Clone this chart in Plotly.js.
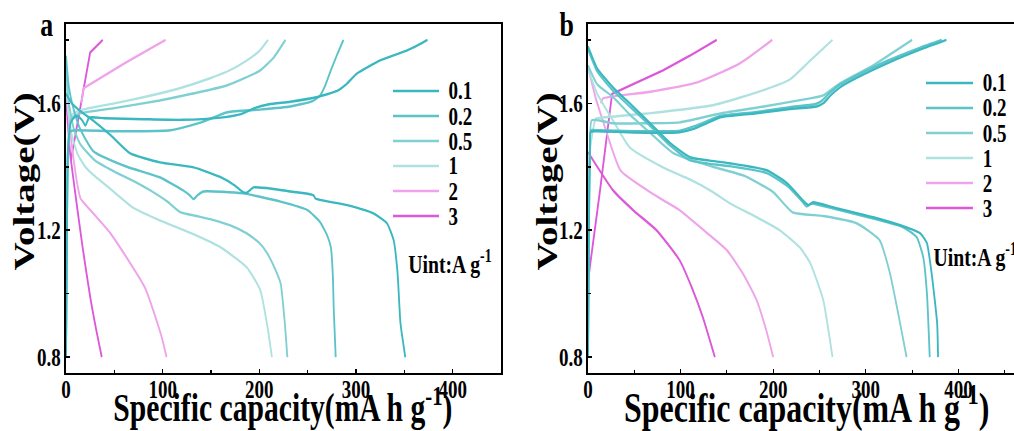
<!DOCTYPE html>
<html>
<head>
<meta charset="utf-8">
<script src="https://cdn.plot.ly/plotly-3.0.1.min.js"></script>
<style>
  html, body { margin: 0; padding: 0; overflow: hidden; background: #fff; }
  #wrap { width: 1014px; height: 431px; overflow: hidden; }
  /* the figure is laid out wide and narrowed horizontally to get its tall, condensed lettering */
  #chart { width: 1334px; height: 431px; transform: scaleX(0.76012); transform-origin: 0 0; }
</style>
</head>
<body>
<div id="wrap"><div id="chart"></div></div>
<script>
// Current densities (A g-1) and their colours
const rates = ['0.1', '0.2', '0.5', '1', '2', '3'];
const rateColors = ['#3bb7bf', '#5cc3c8', '#80d0d3', '#aee2e0', '#efa3ea', '#dc58d8'];

// ---------- Panel a : discharge ----------
const aDis01Cap = [0, 6, 15, 28, 46, 66, 97, 132, 160, 175, 183, 187, 194, 215, 232, 250, 256, 258, 291, 318, 332, 339, 343, 346, 351];
const aDis01V   = [1.63, 1.60, 1.575, 1.546, 1.50, 1.443, 1.414, 1.398, 1.367, 1.34, 1.32, 1.318, 1.335, 1.33, 1.322, 1.315, 1.31, 1.30, 1.279, 1.253, 1.222, 1.168, 1.065, 0.907, 0.80];
const aDis02Cap = [0, 3, 8, 14.5, 28, 63, 97, 121, 128, 132, 136, 142, 183, 222, 250, 263, 270, 274, 276, 277, 279];
const aDis02V   = [1.75, 1.65, 1.58, 1.52, 1.45, 1.40, 1.367, 1.326, 1.31, 1.298, 1.31, 1.322, 1.316, 1.29, 1.263, 1.225, 1.185, 1.146, 1.06, 0.95, 0.80];
const aDis05Cap = [0, 3, 8, 15, 30, 50, 70, 87, 105, 118, 135, 149, 170, 187, 200, 208, 216, 222, 226, 229];
const aDis05V   = [1.72, 1.60, 1.52, 1.47, 1.42, 1.385, 1.355, 1.326, 1.29, 1.257, 1.245, 1.235, 1.215, 1.19, 1.16, 1.128, 1.08, 1.033, 0.92, 0.80];
const aDis1Cap  = [0, 2, 6, 12, 20, 30, 46, 70, 97, 130, 160, 187, 201, 209, 213];
const aDis1V    = [1.70, 1.58, 1.50, 1.44, 1.40, 1.37, 1.33, 1.27, 1.231, 1.19, 1.146, 1.083, 1.011, 0.885, 0.80];
const aDis2Cap  = [0, 4, 8, 12, 15, 18, 46, 82, 99, 104];
const aDis2V    = [1.66, 1.52, 1.42, 1.34, 1.30, 1.288, 1.19, 1.017, 0.863, 0.80];
const aDis3Cap  = [0, 4, 9, 17, 25, 31, 37];
const aDis3V    = [1.62, 1.45, 1.33, 1.15, 0.99, 0.89, 0.80];

// ---------- Panel a : charge ----------
const aChg01Cap = [0, 1, 2, 5, 10, 14, 17, 20, 24, 40, 80, 120, 160, 180, 195, 210, 232, 260, 281, 290, 301, 325, 353, 365, 374];
const aChg01V   = [0.80, 1.2, 1.45, 1.54, 1.56, 1.555, 1.545, 1.53, 1.555, 1.553, 1.550, 1.548, 1.555, 1.565, 1.585, 1.597, 1.605, 1.62, 1.64, 1.66, 1.694, 1.735, 1.767, 1.785, 1.80];
const aChg02Cap = [0, 1, 2, 4, 10, 50, 108, 140, 167, 200, 232, 255, 263, 268, 274, 280, 287];
const aChg02V   = [0.80, 1.2, 1.45, 1.51, 1.515, 1.512, 1.515, 1.54, 1.572, 1.58, 1.59, 1.607, 1.625, 1.655, 1.704, 1.75, 1.80];
const aChg05Cap = [0, 1, 2, 5, 14.5, 50, 97, 130, 167, 201, 215, 227];
const aChg05V   = [0.80, 1.2, 1.45, 1.55, 1.568, 1.585, 1.609, 1.63, 1.657, 1.704, 1.745, 1.80];
const aChg1Cap  = [0, 1, 2, 5, 14.5, 50, 80, 115, 149, 170, 187, 200, 209];
const aChg1V    = [0.80, 1.2, 1.45, 1.56, 1.578, 1.60, 1.619, 1.645, 1.679, 1.705, 1.735, 1.765, 1.80];
const aChg2Cap  = [16, 18, 60, 103];
const aChg2V    = [1.60, 1.647, 1.725, 1.80];
const aChg3Cap  = [5, 25, 38];
const aChg3V    = [1.42, 1.76, 1.80];

// ---------- Panel b : discharge ----------
const bDis01Cap = [0, 10, 27, 45, 64, 89, 110, 130, 153, 193, 215, 229, 232, 238, 243, 265, 308, 344, 359, 366, 371, 377, 378];
const bDis01V   = [1.78, 1.71, 1.65, 1.60, 1.546, 1.474, 1.43, 1.42, 1.411, 1.389, 1.348, 1.304, 1.294, 1.279, 1.288, 1.272, 1.241, 1.209, 1.19, 1.159, 1.065, 0.907, 0.80];
const bDis02Cap = [0, 10, 27, 45, 64, 89, 110, 130, 153, 193, 215, 229, 232, 236, 241, 265, 308, 340, 355, 362, 366, 369];
const bDis02V   = [1.77, 1.70, 1.64, 1.59, 1.538, 1.466, 1.42, 1.41, 1.402, 1.38, 1.34, 1.298, 1.288, 1.275, 1.284, 1.268, 1.237, 1.21, 1.178, 1.115, 1.0, 0.80];
const bDis05Cap = [0, 10, 27, 45, 64, 92, 135, 170, 200, 221, 254, 290, 315, 326, 337, 344];
const bDis05V   = [1.72, 1.66, 1.62, 1.565, 1.515, 1.443, 1.40, 1.37, 1.32, 1.256, 1.245, 1.222, 1.168, 1.065, 0.907, 0.80];
const bDis1Cap  = [0, 10, 27, 45, 81, 110, 135, 153, 182, 207, 229, 240, 254, 264];
const bDis1V    = [1.71, 1.63, 1.546, 1.461, 1.398, 1.36, 1.32, 1.285, 1.241, 1.20, 1.145, 1.096, 0.98, 0.80];
const bDis2Cap  = [0, 8, 16, 35, 64, 81, 99, 125, 150, 168, 182, 192, 200];
const bDis2V    = [1.713, 1.62, 1.546, 1.389, 1.326, 1.295, 1.263, 1.20, 1.137, 1.06, 0.98, 0.89, 0.80];
const bDis3Cap  = [0, 27, 50, 74, 99, 112, 124, 137];
const bDis3V    = [1.446, 1.326, 1.26, 1.20, 1.105, 1.02, 0.926, 0.80];

// ---------- Panel b : charge ----------
const bChg01Cap = [0, 1, 2, 3, 10, 50, 99, 115, 128, 143, 180, 218, 247, 254, 262, 272, 290, 326, 362, 387];
const bChg01V   = [0.80, 1.2, 1.45, 1.51, 1.512, 1.508, 1.509, 1.52, 1.537, 1.556, 1.568, 1.582, 1.59, 1.60, 1.625, 1.65, 1.68, 1.73, 1.773, 1.80];
const bChg02Cap = [0, 1, 2, 3, 10, 50, 99, 115, 128, 143, 180, 218, 245, 252, 260, 270, 288, 324, 358, 382];
const bChg02V   = [0.80, 1.2, 1.45, 1.515, 1.515, 1.512, 1.514, 1.528, 1.543, 1.56, 1.572, 1.588, 1.597, 1.607, 1.63, 1.655, 1.685, 1.735, 1.775, 1.80];
const bChg05Cap = [0, 1, 2, 4, 27, 60, 99, 143, 190, 229, 254, 272, 308, 350];
const bChg05V   = [0.80, 1.2, 1.45, 1.546, 1.537, 1.537, 1.54, 1.568, 1.59, 1.61, 1.625, 1.663, 1.72, 1.80];
const bChg1Cap  = [0, 1, 2, 8, 10, 64, 135, 189, 218, 240, 264];
const bChg1V    = [0.80, 1.2, 1.45, 1.55, 1.553, 1.568, 1.594, 1.641, 1.675, 1.735, 1.80];
const bChg2Cap  = [14, 16, 64, 118, 164, 199];
const bChg2V    = [1.60, 1.615, 1.635, 1.666, 1.726, 1.80];
const bChg3Cap  = [0, 13, 26, 81, 110, 139];
const bChg3V    = [1.04, 1.326, 1.63, 1.704, 1.75, 1.80];

// curves per panel: [capacity, voltage, rate index, drawn straight?]
// listed from the highest current to the lowest so 0.1 ends up on top
const panelA = [
  [aDis3Cap, aDis3V, 5, false], [aChg3Cap, aChg3V, 5, true],
  [aDis2Cap, aDis2V, 4, false], [aChg2Cap, aChg2V, 4, true],
  [aDis1Cap, aDis1V, 3, false], [aChg1Cap, aChg1V, 3, false],
  [aDis05Cap, aDis05V, 2, false], [aChg05Cap, aChg05V, 2, false],
  [aDis02Cap, aDis02V, 1, false], [aChg02Cap, aChg02V, 1, false],
  [aDis01Cap, aDis01V, 0, false], [aChg01Cap, aChg01V, 0, false]
];
const panelB = [
  [bDis3Cap, bDis3V, 5, false], [bChg3Cap, bChg3V, 5, true],
  [bDis2Cap, bDis2V, 4, false], [bChg2Cap, bChg2V, 4, false],
  [bDis1Cap, bDis1V, 3, false], [bChg1Cap, bChg1V, 3, false],
  [bDis05Cap, bDis05V, 2, false], [bChg05Cap, bChg05V, 2, false],
  [bDis02Cap, bDis02V, 1, false], [bChg02Cap, bChg02V, 1, false],
  [bDis01Cap, bDis01V, 0, false], [bChg01Cap, bChg01V, 0, false]
];

const traces = [];
function addPanel(curves, xa, ya) {
  curves.forEach(([cap, v, k, straight]) => {
    traces.push({
      x: cap, y: v, xaxis: xa, yaxis: ya,
      type: 'scatter', mode: 'lines', name: rates[k],
      line: straight
        ? { color: rateColors[k], width: 2.4 }
        : { color: rateColors[k], width: 2.4, shape: 'spline', smoothing: 0.5 },
      showlegend: false, hoverinfo: 'skip'
    });
  });
}
addPanel(panelA, 'x', 'y');
addPanel(panelB, 'x2', 'y2');

// final page size, used to turn pixel spots into paper fractions
const PW = 1014, PH = 431;
const px = v => v / PW;
const py = v => 1 - v / PH;

const serif = 'Liberation Serif, Times New Roman, serif';
const tickFont = { family: serif, size: 25, color: '#000', weight: 'bold' };
const titleFont = { family: serif, size: 39, color: '#000', weight: 'bold' };
const keyFont = { family: serif, size: 25, color: '#000', weight: 'bold' };

function xAxis(dom, maxCap, mirror) {
  return {
    domain: dom, range: [0, maxCap], tick0: 0, dtick: 100,
    showgrid: false, zeroline: false,
    showline: true, linecolor: '#000', linewidth: 2, mirror: mirror,
    ticks: 'inside', ticklen: 4, tickwidth: 1.5, tickcolor: '#000',
    minor: { dtick: 50, ticks: 'inside', ticklen: 3, tickwidth: 1.5, tickcolor: '#000' },
    tickfont: tickFont, ticklabelstandoff: -7
  };
}
function yAxis(anchor, mirror) {
  return {
    domain: [py(373), py(24)], range: [0.75, 1.85], tick0: 0.8, dtick: 0.4,
    anchor: anchor,
    showgrid: false, zeroline: false,
    showline: true, linecolor: '#000', linewidth: 2, mirror: mirror,
    ticks: 'inside', ticklen: 5, tickwidth: 1.5, tickcolor: '#000',
    minor: { dtick: 0.2, ticks: 'inside', ticklen: 4, tickwidth: 1.5, tickcolor: '#000' },
    tickfont: tickFont, ticklabelstandoff: 0
  };
}

// hand-placed key for each panel
const shapes = [];
const annotations = [];
function addKey(lineX0, lineX1, textX, rowsY) {
  rates.forEach((r, k) => {
    shapes.push({
      type: 'line', xref: 'paper', yref: 'paper',
      x0: px(lineX0), x1: px(lineX1), y0: py(rowsY[k]), y1: py(rowsY[k]),
      line: { color: rateColors[k], width: 2.6 }
    });
    annotations.push({
      xref: 'paper', yref: 'paper', x: px(textX), y: py(rowsY[k]),
      xanchor: 'left', yanchor: 'middle', showarrow: false, text: r,
      font: keyFont
    });
  });
}
addKey(393, 439, 447, [91, 116, 141, 166, 191, 216]);
addKey(926, 973, 981, [83, 108, 133, 158, 183, 208]);

const unitText = 'Uint:A g<sup>-1</sup>';
[[407, 262], [932, 255]].forEach(([ux, uy]) => {
  annotations.push({
    xref: 'paper', yref: 'paper', x: px(ux), y: py(uy),
    xanchor: 'left', yanchor: 'middle', showarrow: false, text: unitText,
    font: { family: serif, size: 26, color: '#000', weight: 'bold' }
  });
});

// panel letters
[['a', 47], ['b', 567]].forEach(([t, lx]) => {
  annotations.push({
    xref: 'paper', yref: 'paper', x: px(lx), y: py(25),
    xanchor: 'center', yanchor: 'middle', showarrow: false, text: t,
    font: { family: serif, size: 34, color: '#000', weight: 'bold' }
  });
});

// axis titles
[24, 547].forEach(tx => {
  annotations.push({
    xref: 'paper', yref: 'paper', x: px(tx), y: py(182),
    xanchor: 'center', yanchor: 'middle', showarrow: false, textangle: -90,
    text: 'Voltage(V)', font: titleFont
  });
});
[[283, 39], [807, 42]].forEach(([tx, fs]) => {
  annotations.push({
    xref: 'paper', yref: 'paper', x: px(tx), y: py(405),
    xanchor: 'center', yanchor: 'middle', showarrow: false,
    text: 'Specific capacity(mA h g<sup>-1</sup>)',
    font: { family: serif, size: fs, color: '#000', weight: 'bold' }
  });
});

const layout = {
  width: 1334, height: 431,
  margin: { l: 0, r: 0, t: 0, b: 0 },
  paper_bgcolor: '#fff', plot_bgcolor: '#fff',
  showlegend: false,
  xaxis: xAxis([px(66), px(501)], 450, true),
  yaxis: yAxis('x', true),
  xaxis2: xAxis([px(588), 1], 460, true),
  yaxis2: yAxis('x2', false),
  shapes: shapes,
  annotations: annotations
};

Plotly.newPlot('chart', traces, layout, { displayModeBar: false, staticPlot: true });
</script>
</body>
</html>
